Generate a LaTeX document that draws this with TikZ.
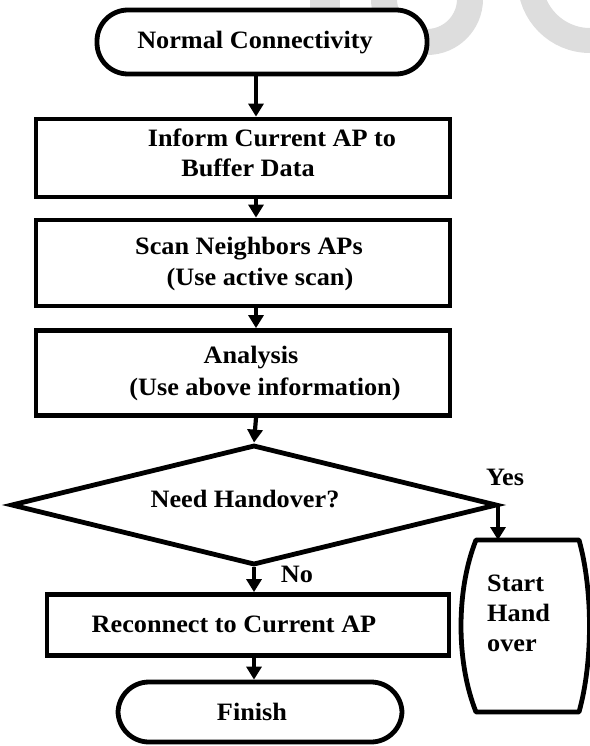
\documentclass[tikz,border=0pt]{standalone}
\usepackage{fontspec}
\setmainfont{Liberation Serif}[FakeStretch=1.05]
\usetikzlibrary{arrows.meta,shapes.geometric}
\definecolor{wmgray}{RGB}{221,221,221}

\begin{document}
\begin{tikzpicture}[x=1pt,y=-1pt,
  outline/.style={draw=black,line width=4.8pt,fill=white},
  procbox/.style={outline,rectangle,inner sep=0pt},
  termbox/.style={outline,rectangle,rounded corners=31pt,inner sep=0pt},
  txt/.style={font=\fontsize{25}{30}\selectfont\bfseries,inner sep=0pt},
  flow/.style={line width=4.2pt,-{Triangle[length=13pt,width=15pt]}},
  wmstroke/.style={draw=wmgray}
]
\useasboundingbox (0,0) rectangle (589,746);

% faint background lettering
\fill[wmgray] (310,0) rectangle (340,30);
\draw[wmstroke,line width=26pt] (427,-1) circle[radius=43pt];
\draw[wmstroke,line width=25pt] (590,-19.5) circle[radius=60pt];

% process shapes
\node[termbox,minimum width=330pt,minimum height=64pt] (start) at (262,42) {};
\node[procbox,minimum width=414pt,minimum height=78pt] (inform) at (243,158) {};
\node[procbox,minimum width=414pt,minimum height=86pt] (scan) at (243,263) {};
\node[procbox,minimum width=414pt,minimum height=85pt] (analysis) at (243,373) {};
\node[outline,diamond,inner sep=0pt,minimum width=486pt,minimum height=120pt] (decide) at (254,505) {};
\node[procbox,minimum width=402pt,minimum height=61pt] (reconnect) at (248,625) {};
\node[termbox,minimum width=284pt,minimum height=60pt] (finish) at (260,712) {};

% hand-over terminal with bulging sides
\coordinate (hoTL) at (476,540);
\coordinate (hoTR) at (579,540);
\coordinate (hoBR) at (579,712);
\coordinate (hoBL) at (476,712);
\draw[line width=4.8pt,line join=round,fill=white]
  (hoTL) -- (hoTR) .. controls (593,590) and (593,662) .. (hoBR)
  -- (hoBL) .. controls (456,662) and (456,590) .. (hoTL) -- cycle;

% labels
\node[txt] (tStart) at (255,43) {Normal Connectivity};
\node[txt] (tInf1) at (272,138) {Inform Current AP to};
\node[txt] (tInf2) at (248,168) {Buffer Data};
\node[txt] (tScan1) at (249,249) {Scan Neighbors APs};
\node[txt] (tScan2) at (260,279) {(Use active scan)};
\node[txt] (tAna1) at (251,358) {Analysis};
\node[txt] (tAna2) at (265,389) {(Use above information)};
\node[txt] (tDec) at (245,499) {Need Handover?};
\node[txt] (tRec) at (234,624) {Reconnect to Current AP};
\node[txt] (tFin) at (252,712) {Finish};
\node[txt,align=left,anchor=north west] (tHo) at (487,575) {Start\\Hand\\over};
\node[txt] (tYes) at (505,477) {Yes};
\node[txt] (tNo) at (297,574) {No};

% connectors
\coordinate (hoIn) at (498,540);
\draw[flow] (start.south -| 256,0) -- (inform.north -| 256,0);
\draw[flow] (inform.south -| 256,0) -- (scan.north -| 256,0);
\draw[flow] (scan.south -| 256,0) -- (analysis.north -| 256,0);
\draw[flow] (analysis.south -| 256,0) -- (decide.north);
\draw[flow] (decide.east -| hoIn) -- (hoIn);
\draw[flow] (decide.south) -- (reconnect.north -| decide.south);
\draw[flow] (reconnect.south -| decide.south) -- (finish.north -| decide.south);
\end{tikzpicture}
\end{document}
